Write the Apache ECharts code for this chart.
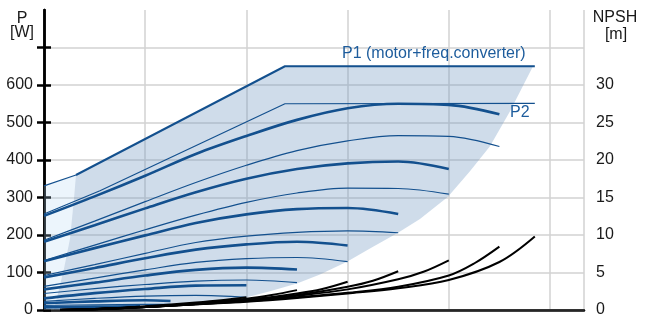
<!DOCTYPE html>
<html>
<head>
<meta charset="utf-8">
<script src="https://cdn.jsdelivr.net/npm/echarts@6/dist/echarts.min.js"></script>
<style>
  html, body { margin: 0; padding: 0; background: #fff; }
  #chart { width: 649px; height: 318px; }
</style>
</head>
<body>
<div id="chart"></div>
<script>
// axis values (left: power in W, right: NPSH in m)
const pLabels = [0, 100, 200, 300, 400, 500, 600];
const pTicks = [0, 100, 200, 300, 400, 500, 600, 700];
const npshLabels = [0, 5, 10, 15, 20, 25, 30];
const npshTicks = [0, 5, 10, 15, 20, 25, 30, 35];

// envelopes [flow (grid units), W]
const p1Envelope = [[0.316, 360], [2.381, 650], [4.85, 650]];
const p1EnvelopeLeft = [[0, 331], [0.316, 360]];
const p2Envelope = [[0, 256], [0.553, 318], [2.381, 550], [4.85, 551]];

// speed curves, thick and thin
const thickCurves = [
  [[0, 251], [0.5, 303], [1, 358], [1.5, 416], [2, 464], [2.5, 507], [3, 538], [3.5, 550], [4, 547], [4.5, 522]],
  [[0, 182], [0.5, 226], [1, 271], [1.5, 314], [2, 350], [2.5, 376], [3, 391], [3.5, 396], [4, 376]],
  [[0, 130], [0.5, 165], [1, 199], [1.5, 232], [2, 255], [2.5, 269], [3, 272], [3.5, 256]],
  [[0, 87], [0.5, 112], [1, 138], [1.5, 161], [2, 175], [2.5, 182], [3, 172]],
  [[0, 55], [0.5, 73], [1, 92], [1.5, 107], [2, 113], [2.5, 108]],
  [[0, 31], [0.5, 45], [1, 56], [1.5, 65], [2, 66]],
  [[0, 18], [0.5, 23], [1, 26], [1.25, 24]],
  [[0, 7], [0.5, 9], [0.95, 10]]
];
const thinCurves = [
  [[0, 186], [0.5, 237], [1, 289], [1.5, 340], [2, 386], [2.5, 425], [3, 451], [3.5, 465], [4, 463], [4.5, 436]],
  [[0, 132], [0.5, 173], [1, 214], [1.5, 253], [2, 287], [2.5, 312], [3, 325], [3.5, 324], [4, 309]],
  [[0, 92], [0.5, 121], [1, 151], [1.5, 180], [2, 197], [2.5, 207], [3, 211], [3.5, 206]],
  [[0, 63], [0.5, 85], [1, 107], [1.5, 127], [2, 137], [2.5, 140], [3, 129]],
  [[0, 44], [0.5, 57], [1, 68], [1.5, 77], [2, 80], [2.5, 73]],
  [[0, 23], [0.5, 31], [1, 37], [1.5, 39], [2, 34]],
  [[0, 12], [0.5, 14], [1, 15], [1.25, 15]]
];

// NPSH curves [flow, m]
const npshCurves = [
  [[0.158, 0], [0.5, 0.1], [1, 0.4], [1.5, 0.75], [2, 1.1], [2.5, 1.6], [3, 2.2], [3.5, 2.9], [4, 4.0], [4.5, 6.4], [4.85, 9.8]],
  [[0.158, 0], [0.5, 0.1], [1, 0.4], [1.5, 0.75], [2, 1.15], [2.5, 1.7], [3, 2.3], [3.5, 3.1], [4, 4.6], [4.25, 6.2], [4.5, 8.45]],
  [[0.158, 0], [0.5, 0.1], [1, 0.4], [1.5, 0.75], [2, 1.25], [2.5, 1.9], [3, 2.75], [3.5, 4.1], [3.75, 5.1], [4, 6.63]],
  [[0.158, 0], [0.5, 0.1], [1, 0.4], [1.5, 0.8], [2, 1.3], [2.5, 2.0], [3, 3.1], [3.25, 3.9], [3.5, 5.17]],
  [[0.158, 0], [0.5, 0.1], [1, 0.42], [1.5, 0.8], [2, 1.35], [2.5, 2.2], [2.75, 2.8], [3, 3.77]],
  [[0.158, 0], [0.5, 0.1], [1, 0.45], [1.5, 0.85], [2, 1.5], [2.25, 2.0], [2.5, 2.65]],
  [[0.158, 0], [0.5, 0.12], [1, 0.5], [1.5, 1.0], [1.75, 1.3], [2, 1.7]],
  [[0.158, 0.05], [0.5, 0.15], [1, 0.4], [1.25, 0.55]],
  [[0.158, 0.05], [0.5, 0.15], [0.95, 0.35]]
];

// operating areas
const shadeMain = [
  [0.316, 360], [2.381, 650], [4.832, 650],
  [4.605, 530], [4.407, 437], [4.209, 370], [3.992, 302], [3.715, 243], [3.498, 206], [3.221, 164],
  [2.994, 129], [2.727, 95], [2.5, 71], [2.233, 50], [2.006, 34], [1.542, 15], [1.047, 6], [0.553, 1],
  [0.158, 0], [0.099, 0], [0.138, 44], [0.198, 111], [0.257, 190], [0.296, 296]
];
const shadeLeft = [
  [0, 331], [0.316, 360], [0.296, 296], [0.257, 190], [0.198, 111], [0.138, 44], [0.099, 0], [0, 0]
];

const blue = '#13508e';
const font = 'Liberation Sans, Arial, sans-serif';

function area(points, fill) {
  return {
    type: 'custom',
    silent: true,
    z: 1,
    data: points,
    encode: { x: 0, y: 1 },
    renderItem: function (params, api) {
      if (params.dataIndex !== 0) return null;
      return {
        type: 'polygon',
        shape: { points: points.map(p => api.coord(p)) },
        style: { fill: fill }
      };
    }
  };
}

function curve(data, width, color, axis, smooth) {
  return {
    type: 'line',
    yAxisIndex: axis || 0,
    data: data,
    showSymbol: false,
    smooth: smooth === undefined ? 0.35 : smooth,
    silent: true,
    z: 3,
    lineStyle: { color: color, width: width }
  };
}

const series = [
  area(shadeLeft, 'rgba(180, 215, 245, 0.25)'),
  area(shadeMain, 'rgba(110, 150, 190, 0.33)'),
  curve(p1EnvelopeLeft, 1.2, blue, 0, false),
  curve(p1Envelope, 2, blue, 0, false),
  curve(p2Envelope, 1.2, blue, 0, false)
];
thickCurves.forEach(c => series.push(curve(c, 2.6, blue)));
thinCurves.forEach(c => series.push(curve(c, 1.2, blue)));
npshCurves.forEach(c => series.push(curve(c, 2, '#000', 1)));

const chart = echarts.init(document.getElementById('chart'));
chart.setOption({
  animation: false,
  backgroundColor: '#fff',
  grid: { left: 44, right: 65, top: 10, bottom: 6 },
  xAxis: [
    {
      type: 'value',
      min: 0,
      max: 5.336,
      interval: 1,
      axisLine: { show: true, onZero: false, lineStyle: { color: '#000', width: 2.5 } },
      axisTick: { show: false },
      axisLabel: { show: false },
      splitLine: { show: true, lineStyle: { color: '#d2d2d2', width: 1.5 } }
    },
    {
      type: 'value',
      position: 'top',
      min: 0,
      max: 5.336,
      axisLine: { show: true, lineStyle: { color: '#333', width: 1.5 } },
      axisTick: { show: false },
      axisLabel: { show: false },
      splitLine: { show: false }
    }
  ],
  yAxis: [
    {
      type: 'value',
      min: 0,
      max: 800,
      interval: 100,
      axisLine: { show: true, lineStyle: { color: '#000', width: 2.5 } },
      axisTick: { show: true, length: 7, customValues: pTicks, lineStyle: { color: '#000', width: 2.5 } },
      axisLabel: { customValues: pLabels, margin: 11, color: '#1a1a1a', fontSize: 16, fontFamily: font },
      splitLine: { show: true, lineStyle: { color: '#d2d2d2', width: 1.5 } }
    },
    {
      type: 'value',
      position: 'right',
      min: 0,
      max: 40,
      interval: 5,
      axisLine: { show: true, lineStyle: { color: '#000', width: 2.5 } },
      axisTick: { show: true, length: 7, customValues: npshTicks, lineStyle: { color: '#000', width: 2.5 } },
      axisLabel: { customValues: npshLabels, margin: 12, color: '#1a1a1a', fontSize: 16, fontFamily: font },
      splitLine: { show: false }
    }
  ],
  graphic: [
    { type: 'text', x: 22, y: 19, style: { text: 'P', font: '16px ' + font, fill: '#1a1a1a', textAlign: 'center', textVerticalAlign: 'middle' } },
    { type: 'text', x: 22, y: 32.5, style: { text: '[W]', font: '16px ' + font, fill: '#1a1a1a', textAlign: 'center', textVerticalAlign: 'middle' } },
    { type: 'text', x: 615, y: 17.5, style: { text: 'NPSH', font: '16px ' + font, fill: '#1a1a1a', textAlign: 'center', textVerticalAlign: 'middle' } },
    { type: 'text', x: 616, y: 34.5, style: { text: '[m]', font: '16px ' + font, fill: '#1a1a1a', textAlign: 'center', textVerticalAlign: 'middle' } },
    { type: 'text', x: 342, y: 54, z: 10, style: { text: 'P1 (motor+freq.converter)', font: '16px ' + font, fill: '#1d5c9c', textAlign: 'left', textVerticalAlign: 'middle' } },
    { type: 'text', x: 510, y: 112.5, z: 10, style: { text: 'P2', font: '16px ' + font, fill: '#1d5c9c', textAlign: 'left', textVerticalAlign: 'middle' } }
  ],
  series: series
});
</script>
</body>
</html>
